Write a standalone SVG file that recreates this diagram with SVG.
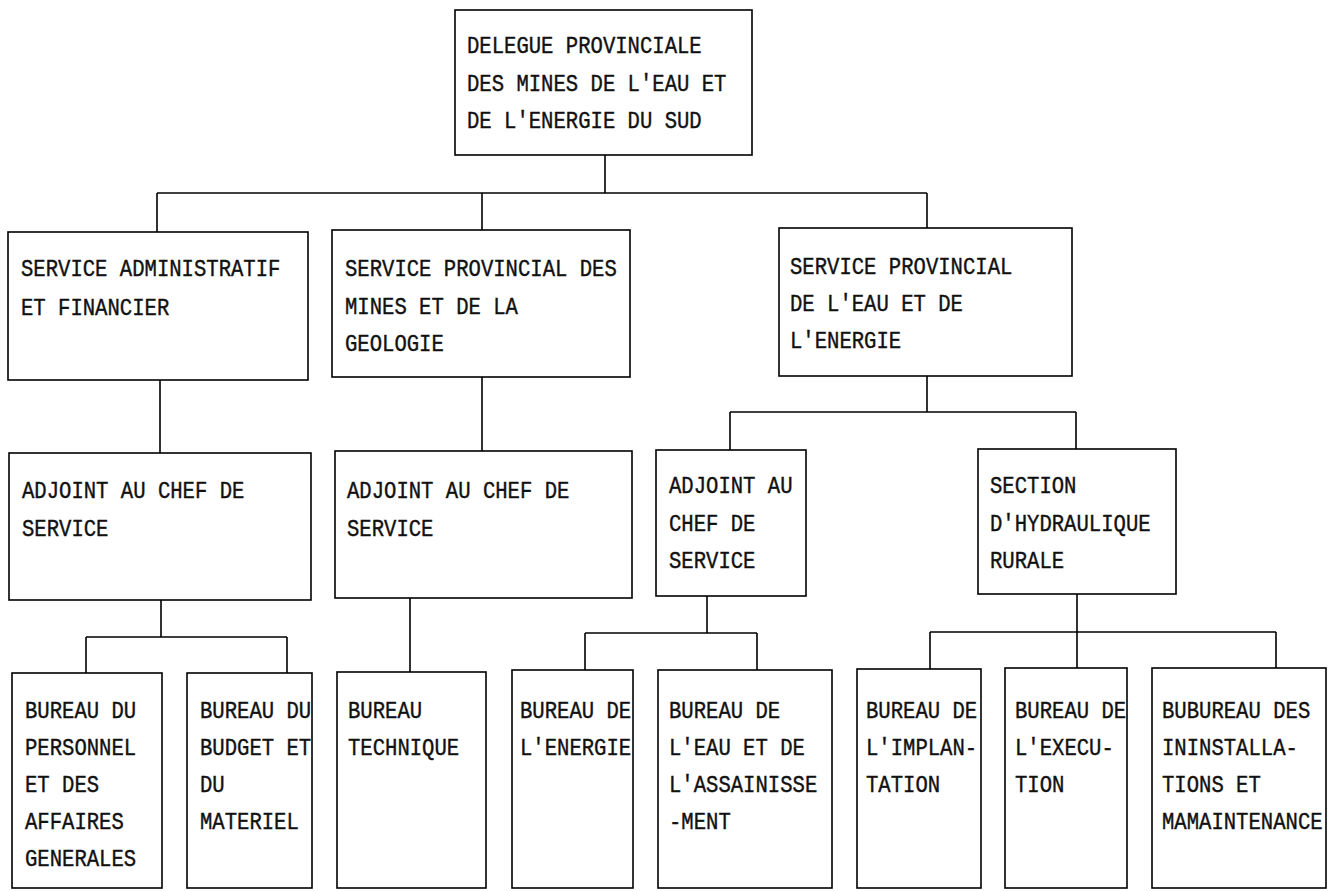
<svg xmlns="http://www.w3.org/2000/svg" width="1334" height="891" viewBox="0 0 1334 891">
<style>
.box{fill:#fff;stroke:#000;stroke-width:1.6}
.ln{fill:none;stroke:#000;stroke-width:1.6}
text{font-family:"Liberation Mono","DejaVu Sans Mono",monospace;font-size:20.6px;fill:#111;stroke:#111;stroke-width:0.35}
</style>
<rect x="0" y="0" width="1334" height="891" fill="#fff"/>
<g id="connectors">
<path class="ln" d="M605 155V193M157 193H927M157 193V232M482 193V230M927 193V228"/>
<path class="ln" d="M160 380V453M482 377V451M927 376V412M730 412H1076M730 412V450M1076 412V449"/>
<path class="ln" d="M161 600V637M86 637H287M86 637V673M287 637V673M410 598V672"/>
<path class="ln" d="M707 596V633M585 633H757M585 633V670M757 633V670"/>
<path class="ln" d="M1077 594V668M930 632H1276M930 632V669M1276 632V668"/>
</g>
<g id="n-delegue"><rect class="box" x="455" y="10" width="297" height="145"/>
<g transform="translate(467,53) scale(1,1.18)"><text y="0">DELEGUE PROVINCIALE</text><text y="32.2">DES MINES DE L'EAU ET</text><text y="63.6">DE L'ENERGIE DU SUD</text></g></g>
<g id="n-saf"><rect class="box" x="8" y="232" width="300" height="148"/>
<g transform="translate(21,276) scale(1,1.18)"><text y="0">SERVICE ADMINISTRATIF</text><text y="33.1">ET FINANCIER</text></g></g>
<g id="n-spmg"><rect class="box" x="332" y="230" width="298" height="147"/>
<g transform="translate(345,276) scale(1,1.18)"><text y="0">SERVICE PROVINCIAL DES</text><text y="32.2">MINES ET DE LA</text><text y="63.6">GEOLOGIE</text></g></g>
<g id="n-spee"><rect class="box" x="779" y="228" width="293" height="148"/>
<g transform="translate(790,274) scale(1,1.18)"><text y="0">SERVICE PROVINCIAL</text><text y="31.4">DE L'EAU ET DE</text><text y="62.7">L'ENERGIE</text></g></g>
<g id="n-adj1"><rect class="box" x="9" y="453" width="302" height="147"/>
<g transform="translate(22,498) scale(1,1.18)"><text y="0">ADJOINT AU CHEF DE</text><text y="32.2">SERVICE</text></g></g>
<g id="n-adj2"><rect class="box" x="335" y="451" width="297" height="147"/>
<g transform="translate(347,498) scale(1,1.18)"><text y="0">ADJOINT AU CHEF DE</text><text y="32.2">SERVICE</text></g></g>
<g id="n-adj3"><rect class="box" x="656" y="450" width="150" height="146"/>
<g transform="translate(669,493) scale(1,1.18)"><text y="0">ADJOINT AU</text><text y="32.2">CHEF DE</text><text y="63.6">SERVICE</text></g></g>
<g id="n-shr"><rect class="box" x="978" y="449" width="198" height="145"/>
<g transform="translate(990,493) scale(1,1.18)"><text y="0">SECTION</text><text y="32.2">D'HYDRAULIQUE</text><text y="63.6">RURALE</text></g></g>
<g id="n-b1"><rect class="box" x="12" y="673" width="150" height="215"/>
<g transform="translate(25,718) scale(1,1.18)"><text y="0">BUREAU DU</text><text y="31.4">PERSONNEL</text><text y="62.7">ET DES</text><text y="94.1">AFFAIRES</text><text y="125.4">GENERALES</text></g></g>
<g id="n-b2"><rect class="box" x="187" y="673" width="125" height="215"/>
<g transform="translate(200,718) scale(1,1.18)"><text y="0">BUREAU DU</text><text y="31.4">BUDGET ET</text><text y="62.7">DU</text><text y="94.1">MATERIEL</text></g></g>
<g id="n-b3"><rect class="box" x="337" y="672" width="149" height="216"/>
<g transform="translate(348,718) scale(1,1.18)"><text y="0">BUREAU</text><text y="31.4">TECHNIQUE</text></g></g>
<g id="n-b4"><rect class="box" x="512" y="670" width="121" height="218"/>
<g transform="translate(520,718) scale(1,1.18)"><text y="0">BUREAU DE</text><text y="31.4">L'ENERGIE</text></g></g>
<g id="n-b5"><rect class="box" x="658" y="670" width="174" height="218"/>
<g transform="translate(669,718) scale(1,1.18)"><text y="0">BUREAU DE</text><text y="31.4">L'EAU ET DE</text><text y="62.7">L'ASSAINISSE</text><text y="94.1">-MENT</text></g></g>
<g id="n-b6"><rect class="box" x="857" y="669" width="124" height="219"/>
<g transform="translate(866,718) scale(1,1.18)"><text y="0">BUREAU DE</text><text y="31.4">L'IMPLAN-</text><text y="62.7">TATION</text></g></g>
<g id="n-b7"><rect class="box" x="1005" y="668" width="122" height="220"/>
<g transform="translate(1015,718) scale(1,1.18)"><text y="0">BUREAU DE</text><text y="31.4">L'EXECU-</text><text y="62.7">TION</text></g></g>
<g id="n-b8"><rect class="box" x="1152" y="668" width="174" height="220"/>
<g transform="translate(1162,718) scale(1,1.18)"><text y="0">BUBUREAU DES</text><text y="31.4">ININSTALLA-</text><text y="62.7">TIONS ET</text><text y="94.1">MAMAINTENANCE</text></g></g>
</svg>
